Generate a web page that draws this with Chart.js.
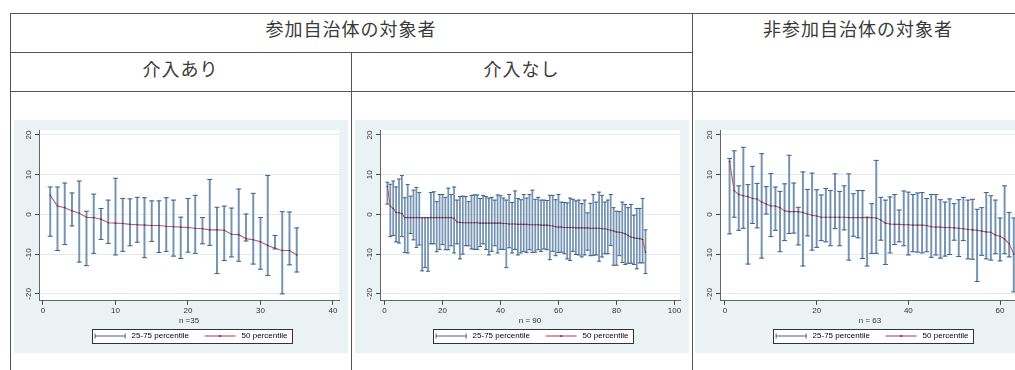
<!DOCTYPE html>
<html>
<head>
<meta charset="utf-8">
<script src="https://cdn.jsdelivr.net/npm/chart.js@4.4.0/dist/chart.umd.min.js"></script>
<style>
  html, body { margin: 0; padding: 0; overflow: hidden; }
  body { width: 1015px; height: 370px; position: relative; background: #fff;
         font-family: "Noto Sans CJK JP", "Noto Sans", sans-serif; }
  .ln { position: absolute; background: #555; }
  .hd { position: absolute; text-align: center; color: #3a3a3a; font-size: 18px; line-height: 22px; letter-spacing: 1px; }
  canvas.panel { position: absolute; top: 120px; background: #eaf2f3; }
</style>
</head>
<body>
<div class="ln" style="left:10px;top:13px;width:1005px;height:1px"></div>
<div class="ln" style="left:10px;top:52px;width:682px;height:1px"></div>
<div class="ln" style="left:10px;top:91px;width:1005px;height:1px"></div>
<div class="ln" style="left:10px;top:13px;width:1px;height:357px"></div>
<div class="ln" style="left:351px;top:52px;width:1px;height:318px"></div>
<div class="ln" style="left:692px;top:13px;width:1px;height:357px"></div>

<div class="hd" style="left:10px;width:682px;top:17px">参加自治体の対象者</div>
<div class="hd" style="left:692px;width:332px;top:17px">非参加自治体の対象者</div>
<div class="hd" style="left:10px;width:341px;top:57px">介入あり</div>
<div class="hd" style="left:351px;width:341px;top:57px">介入なし</div>

<canvas id="chartA" class="panel" width="334" height="233" style="left:14px"></canvas>
<canvas id="chartB" class="panel" width="334" height="233" style="left:355px"></canvas>
<canvas id="chartC" class="panel" width="334" height="233" style="left:695px"></canvas>

<script>
//---y-axis
var yTicks = [ -20, -10, 0, 10, 20 ]

//---legend
var legendLabels = [ '25-75 percentile', '50 percentile' ]

// 介入あり (n=35)-------------------------------------------------------------
var xTicksA = [ 0, 10, 20, 30, 40 ]
var p75A = [ 6.9, 6.9, 7.9, 5.4, 8.4, 0.8, 5.1, 1.5, 3.6, 9.1, 4.0, 3.9, 4.3, 4.2, 3.4, 3.4, 4.2, 3.6, -0.7, 4.0,
             4.8, -0.8, 8.8, 1.8, 2.1, 1.6, 6.4, 0.1, 5.3, -0.8, 9.8, -5.3, 0.7, 0.6, -3.4 ]
var p50A = [ 4.8, 2.1, 1.7, 0.9, 0.3, -0.7, -0.8, -1.2, -2.1, -2.2, -2.3, -2.5, -2.6, -2.7, -2.8, -2.8, -3.0, -3.1, -3.2, -3.3,
             -3.5, -3.6, -3.9, -3.9, -4.0, -5.0, -5.1, -6.1, -6.4, -6.9, -7.8, -8.5, -9.1, -9.1, -10.2 ]
var p25A = [ -5.5, -9.1, -7.6, -2.9, -12.0, -12.9, -9.8, -6.3, -7.3, -10.2, -9.3, -7.9, -7.0, -10.9, -6.8, -9.6, -9.3, -10.5, -11.1, -9.5,
             -9.8, -7.4, -7.8, -14.9, -11.6, -10.7, -11.8, -6.7, -12.5, -13.8, -15.4, -8.7, -20.0, -12.7, -14.5 ]

// 介入なし (n=90)-------------------------------------------------------------
var xTicksB = [ 0, 20, 40, 60, 80, 100 ]
var p75B = [ 8.1, 7.6, 8.4, 6.9, 8.9, 9.8, 4.2, 7.5, 4.6, 6.1, 6.8, 5.5, -0.8, -0.8, -0.8, 5.5, 5.7, 3.2, 5.0, 5.0,
             4.3, 6.6, 5.0, 6.9, 3.6, 4.5, 4.6, 4.5, 3.2, 4.8, 4.9, 4.9, 4.0, 4.8, 4.5, 4.1, 4.3, 3.6, 4.9, 4.7,
             4.1, 3.6, 5.0, 3.0, 5.9, 4.0, 3.7, 5.0, 4.1, 5.0, 6.1, 3.8, 4.3, 3.6, 3.6, 3.5, 4.8, 4.8, 3.7, 5.0,
             3.1, 3.0, 2.9, 4.1, 3.8, 3.4, 3.6, 2.7, 3.6, 0.4, 2.8, 5.0, 3.1, 5.6, 4.8, 3.1, 3.6, 5.0, 1.7, 0.8,
             0.7, 3.1, 2.5, 1.7, 2.5, -0.2, 1.5, 1.5, 4.0, -3.9 ]
var p50B = [ 7.0, 2.1, 1.5, 0.5, 0.4, 0.2, -0.8, -0.8, -0.8, -0.8, -0.8, -0.8, -0.8, -0.8, -0.8, -0.8, -0.8, -0.8, -0.8, -0.8,
             -0.8, -0.8, -0.8, -1.0, -1.9, -2.0, -2.1, -2.1, -2.1, -2.1, -2.1, -2.1, -2.2, -2.2, -2.2, -2.2, -2.2, -2.2, -2.2, -2.2,
             -2.3, -2.3, -2.4, -2.4, -2.4, -2.5, -2.5, -2.5, -2.5, -2.6, -2.6, -2.6, -2.6, -2.7, -2.7, -2.7, -2.8, -2.9, -3.1, -3.2,
             -3.2, -3.3, -3.3, -3.3, -3.3, -3.4, -3.4, -3.4, -3.4, -3.4, -3.5, -3.5, -3.5, -3.5, -3.6, -3.6, -3.8, -4.0, -4.2, -4.4,
             -4.5, -4.6, -4.9, -5.3, -5.7, -5.9, -6.0, -6.1, -6.3, -9.5 ]
var p25B = [ 2.6, -5.6, -5.3, -6.9, -7.2, -5.6, -9.6, -9.7, -4.8, -6.4, -8.3, -7.7, -14.2, -13.4, -14.3, -7.4, -7.4, -9.4, -8.8, -7.6,
             -8.9, -8.9, -7.9, -9.7, -7.4, -11.2, -10.0, -7.9, -7.9, -8.7, -8.8, -8.8, -8.1, -7.4, -8.8, -10.2, -9.3, -7.9, -9.7, -8.8,
             -8.8, -13.4, -8.4, -9.7, -8.8, -10.2, -9.7, -9.3, -9.6, -8.9, -9.6, -9.5, -8.9, -9.3, -8.7, -8.9, -11.4, -9.3, -10.4, -9.6,
             -9.5, -9.9, -11.2, -11.6, -9.3, -10.1, -10.2, -10.7, -10.2, -9.0, -10.4, -10.3, -10.2, -11.8, -10.7, -9.9, -9.9, -7.8, -12.8, -12.8,
             -10.4, -12.1, -12.6, -12.3, -12.3, -12.6, -13.7, -12.2, -12.2, -14.9 ]

// 非参加自治体 (n=63)---------------------------------------------------------
var xTicksC = [ 0, 20, 40, 60 ]
var p75C = [ 14.1, 16.0, 7.2, 16.9, 7.5, 12.1, 7.8, 15.3, 7.0, 10.3, 6.9, 5.8, 7.7, 14.9, 7.9, 1.8, 10.7, 6.3, 10.4, 6.2,
             4.9, 6.5, 6.0, 10.2, 5.8, 7.2, 10.2, 5.2, 6.0, 6.0, -0.7, 2.7, 13.6, 4.3, 3.6, 4.4, 5.0, 1.1, 5.9, 5.6,
             5.0, 5.4, 5.5, 4.0, 5.0, 5.0, 3.7, 3.1, 3.9, 2.7, 3.7, 4.3, 3.6, 3.8, 1.3, 1.7, 5.5, 4.7, 3.6, -0.9,
             7.2, 0.5, -0.9 ]
var p50C = [ 13.3, 6.0, 5.0, 4.7, 4.5, 4.0, 3.9, 3.1, 2.6, 2.1, 2.1, 1.7, 0.9, 0.7, 0.7, 0.7, 0.5, 0.1, -0.2, -0.4,
             -0.7, -0.7, -0.7, -0.7, -0.7, -0.7, -0.8, -0.8, -0.8, -0.8, -0.8, -0.8, -0.9, -1.4, -2.2, -2.4, -2.5, -2.5, -2.6, -2.6,
             -2.7, -2.7, -2.7, -2.8, -3.1, -3.2, -3.2, -3.3, -3.3, -3.4, -3.5, -3.6, -3.8, -3.9, -4.0, -4.2, -4.4, -4.5, -5.2, -5.5,
             -6.2, -7.4, -10.0 ]
var p25C = [ -4.9, -0.7, -4.0, -3.5, -12.5, -2.3, -3.4, -11.0, 0.1, -5.6, -4.0, -9.4, -6.6, -4.8, -4.7, -7.7, -13.0, -5.4, -9.0, -8.3,
             -6.6, -6.9, -7.9, -3.6, -7.9, -3.9, -11.5, -5.5, -5.9, -11.1, -13.0, -9.8, -9.8, -6.5, -12.6, -9.7, -7.6, -6.9, -7.9, -10.2,
             -9.4, -9.5, -9.7, -9.4, -10.8, -10.2, -11.0, -10.5, -10.1, -6.5, -10.6, -6.6, -11.2, -11.3, -16.9, -10.3, -11.2, -11.5, -9.9, -11.7,
             -9.9, -10.7, -19.5 ]

//---colours
var barColor = '#7593b3';
var capColor = '#3f628a';
var medColor = '#c0585a';
var dotColor = '#1f3c63';

Chart.defaults.font.family = '"Liberation Sans", Arial, sans-serif';
Chart.defaults.font.size = 8;
Chart.defaults.color = '#333';

// legend symbols (drawn once, used as pointStyle)
var capIcon = document.createElement('canvas');
capIcon.width = 37; capIcon.height = 8;
var c = capIcon.getContext('2d');
c.strokeStyle = capColor; c.lineWidth = 1;
c.beginPath();
c.moveTo(4.5, 1.5); c.lineTo(4.5, 6.5);
c.moveTo(34.5, 1.5); c.lineTo(34.5, 6.5);
c.moveTo(4.5, 4); c.lineTo(34.5, 4);
c.stroke();

var medIcon = document.createElement('canvas');
medIcon.width = 37; medIcon.height = 8;
c = medIcon.getContext('2d');
c.strokeStyle = medColor; c.lineWidth = 1.2;
c.beginPath(); c.moveTo(4, 4); c.lineTo(35, 4); c.stroke();
c.fillStyle = dotColor;
c.beginPath(); c.arc(19.5, 4, 1.1, 0, Math.PI * 2); c.fill();

// white plot region + framed legend
var stataFrame = {
  id: 'stataFrame',
  beforeDraw: function (chart) {
    var ctx = chart.ctx, a = chart.chartArea;
    ctx.save();
    ctx.fillStyle = '#fff';
    ctx.fillRect(a.left, a.top, a.right - a.left, a.bottom - a.top);
    var hb = chart.legend.legendHitBoxes;
    if (hb && hb.length) {
      var first = hb[0], last = hb[hb.length - 1];
      var x0 = Math.round(first.left + 1) + 0.5;
      var x1 = Math.round(last.left + last.width + 5) + 0.5;
      var cy = Math.round(first.top + first.height / 2);
      ctx.fillRect(x0, cy - 7, x1 - x0, 14);
      ctx.strokeStyle = '#333';
      ctx.lineWidth = 1;
      ctx.strokeRect(x0, cy - 7 + 0.5, x1 - x0, 14);
    }
    ctx.restore();
  }
};

// rotated y tick labels, Stata style
var yTickLabels = {
  id: 'yTickLabels',
  afterDraw: function (chart) {
    var ctx = chart.ctx, y = chart.scales.y;
    ctx.save();
    ctx.font = '8px "Liberation Sans", Arial, sans-serif';
    ctx.fillStyle = '#333';
    ctx.textAlign = 'center';
    ctx.textBaseline = 'middle';
    y.ticks.forEach(function (t) {
      ctx.save();
      ctx.translate(chart.chartArea.left - 10.5, y.getPixelForValue(t.value));
      ctx.rotate(-Math.PI / 2);
      ctx.fillText(String(t.value), 0, 0);
      ctx.restore();
    });
    ctx.restore();
  }
};

function rangeChart(id, p25, p50, p75, xTicks, xMin, xMax, title, capR, barW) {
  var med = p50.map(function (v, i) { return { x: i + 1, y: v }; });
  var hi = p75.map(function (v, i) { return { x: i + 1, y: v }; });
  var lo = p25.map(function (v, i) { return { x: i + 1, y: v }; });
  var rng = p25.map(function (v, i) { return { x: i + 1, y: [v, p75[i]] }; });

  return new Chart(document.getElementById(id), {
    type: 'bar',
    plugins: [stataFrame, yTickLabels],
    data: {
      datasets: [{
        type: 'line',
        label: legendLabels[1],
        data: med,
        borderColor: medColor,
        borderWidth: 1.1,
        pointRadius: 0.8,
        pointBackgroundColor: dotColor,
        pointBorderWidth: 0,
        tension: 0
      }, {
        type: 'line',
        label: 'p75',
        data: hi,
        showLine: false,
        pointStyle: 'line',
        pointRadius: capR,
        pointBorderColor: capColor,
        pointBorderWidth: 1
      }, {
        type: 'line',
        label: 'p25',
        data: lo,
        showLine: false,
        pointStyle: 'line',
        pointRadius: capR,
        pointBorderColor: capColor,
        pointBorderWidth: 1
      }, {
        type: 'bar',
        label: legendLabels[0],
        data: rng,
        backgroundColor: barColor,
        borderWidth: 0,
        barThickness: barW
      }]
    },
    options: {
      responsive: false,
      animation: false,
      events: [],
      layout: { padding: { left: 25, right: 9, top: 10, bottom: 3 } },
      plugins: {
        tooltip: { enabled: false },
        legend: {
          position: 'bottom',
          labels: {
            usePointStyle: true,
            pointStyleWidth: 37,
            padding: 5,
            color: '#222',
            font: { size: 8 },
            generateLabels: function () {
              return [
                { text: legendLabels[0] + '   ', pointStyle: capIcon, fillStyle: barColor, strokeStyle: capColor, lineWidth: 0, hidden: false },
                { text: legendLabels[1], pointStyle: medIcon, fillStyle: medColor, strokeStyle: medColor, lineWidth: 0, hidden: false }
              ];
            }
          }
        }
      },
      scales: {
        x: {
          type: 'linear',
          min: xMin,
          max: xMax,
          offset: false,
          afterBuildTicks: function (s) { s.ticks = xTicks.map(function (v) { return { value: v }; }); },
          grid: { drawOnChartArea: false, offset: false, tickLength: 4, tickColor: '#444' },
          border: { color: '#666' },
          ticks: { padding: 1, color: '#333', maxRotation: 0, autoSkip: false },
          title: { display: true, text: title, color: '#333', padding: { top: 0, bottom: 1 } }
        },
        y: {
          type: 'linear',
          min: -21.75,
          max: 21.25,
          afterBuildTicks: function (s) { s.ticks = yTicks.map(function (v) { return { value: v }; }); },
          afterFit: function (s) { s.width = 0; },
          grid: { color: '#e3ebee', tickLength: 4, tickColor: '#444' },
          border: { color: '#666' },
          ticks: { display: false }
        }
      }
    }
  });
}

var chartA = rangeChart('chartA', p25A, p50A, p75A, xTicksA, -0.55, 40.83, 'n =35', 2.5, 1.3);
var chartB = rangeChart('chartB', p25B, p50B, p75B, xTicksB, -1.55, 101.9, 'n = 90', 2, 1.1);
var chartC = rangeChart('chartC', p25C, p50C, p75C, xTicksC, -1.09, 64.36, 'n = 63', 2.5, 1.3);
</script>
</body>
</html>
